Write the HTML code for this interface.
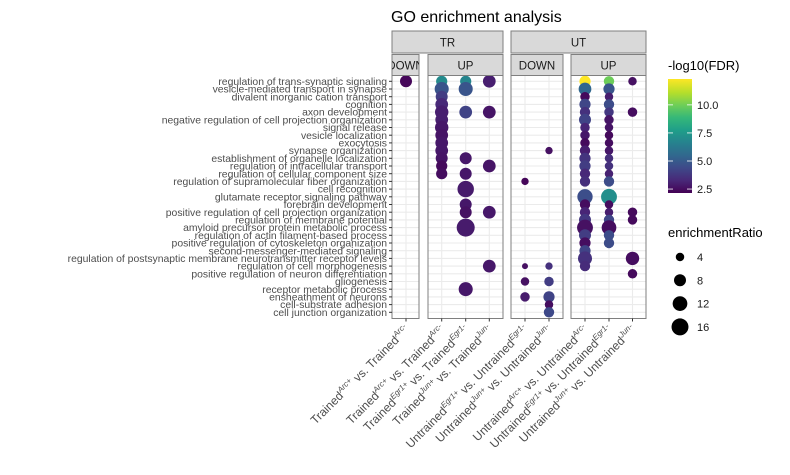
<!DOCTYPE html>
<html><head><meta charset="utf-8"><style>
body{margin:0;background:#fff;}
svg{display:block;font-family:"Liberation Sans",sans-serif;}
</style></head><body>
<svg id="chart" width="790" height="475" viewBox="0 0 790 475" xmlns="http://www.w3.org/2000/svg">
<defs><linearGradient id="vir" x1="0" y1="1" x2="0" y2="0">
<stop offset="0" stop-color="#440154"/><stop offset="0.11" stop-color="#482878"/><stop offset="0.22" stop-color="#3e4989"/><stop offset="0.33" stop-color="#31688e"/><stop offset="0.44" stop-color="#26828e"/><stop offset="0.55" stop-color="#1f9e89"/><stop offset="0.66" stop-color="#35b779"/><stop offset="0.77" stop-color="#6ece58"/><stop offset="0.88" stop-color="#b5de2b"/><stop offset="1" stop-color="#fde725"/></linearGradient></defs>
<text x="391" y="22" font-size="16" fill="#000">GO enrichment analysis</text>
<g id="g"></g>
</svg>
<script>
const terms=["regulation of trans-synaptic signaling","vesicle-mediated transport in synapse","divalent inorganic cation transport","cognition","axon development","negative regulation of cell projection organization","signal release","vesicle localization","exocytosis","synapse organization","establishment of organelle localization","regulation of intracellular transport","regulation of cellular component size","regulation of supramolecular fiber organization","cell recognition","glutamate receptor signaling pathway","forebrain development","positive regulation of cell projection organization","regulation of membrane potential","amyloid precursor protein metabolic process","regulation of actin filament-based process","positive regulation of cytoskeleton organization","second-messenger-mediated signaling","regulation of postsynaptic membrane neurotransmitter receptor levels","regulation of cell morphogenesis","positive regulation of neuron differentiation","gliogenesis","receptor metabolic process","ensheathment of neurons","cell-substrate adhesion","cell junction organization"];
const comparisons=[["Trained","Arc+","Trained","Arc-"],["Trained","Arc+","Trained","Arc-"],["Trained","Egr1+","Trained","Egr1-"],["Trained","Jun+","Trained","Jun-"],["Untrained","Egr1+","Untrained","Egr1-"],["Untrained","Jun+","Untrained","Jun-"],["Untrained","Arc+","Untrained","Arc-"],["Untrained","Egr1+","Untrained","Egr1-"],["Untrained","Jun+","Untrained","Jun-"]];
const colPanel=[0,1,1,1,2,2,3,3,3];
const c0Terms=[1], c0Ratio=[8], c0Fdr=[2.3];
const c1Terms=[1,2,3,4,5,6,7,8,9,10,11,12,13];
const c1Ratio=[7,11,8,9,10,9,10,9,9,9,8,7,7];
const c1Fdr=[7,4.8,4,3.3,3,3,2.8,2.7,2.8,2.8,2.7,2.4,2.5];
const c2Terms=[1,2,5,11,13,15,17,18,20,28];
const c2Ratio=[7,11,9,8,8,15,8,8,18,11];
const c2Fdr=[6.8,4.8,4.2,2.8,2.8,2.9,2.8,2.6,2.9,2.8];
const c3Terms=[1,5,12,18,25], c3Ratio=[9,9,9,9,9], c3Fdr=[3,2.7,2.7,2.8,2.8];
const c4Terms=[14,25,27,29], c4Ratio=[3,2,4,5], c4Fdr=[2.3,2.6,2.6,2.9];
const c5Terms=[10,25,27,29,30,31], c5Ratio=[3,3,5,7,4,6], c5Fdr=[2.6,3.6,4,4.2,2.5,4.4];
const c6Terms=[1,2,3,4,5,6,7,8,9,10,11,12,13,14,16,17,18,19,20,21,22,23,24,25];
const c6Ratio=[7,9,5,7,6,8,5,5,5,6,7,7,6,6,13,6,6,8,14,8,7,7,11,6];
const c6Fdr=[12.3,5.5,2.4,4.3,3.6,4.2,3.2,2.8,2.4,3,3.7,4,3.3,3.5,4.6,2.5,3.2,3.8,2.6,4,2.5,4.2,3.6,3.4];
const c7Terms=[1,2,3,4,5,6,7,8,9,10,11,12,13,14,16,17,18,19,20,21,22];
const c7Ratio=[6,7,4,6,5,5,4,4,4,4,4,4,4,6,14,4,4,6,12,6,6];
const c7Fdr=[10,4.8,3,4.5,3.8,2.7,2.7,2.4,2.5,2.8,3.5,3.6,3.1,4.5,7.2,2.5,3,4.3,2.5,4.5,4.5];
const c8Terms=[1,5,18,19,24,26], c8Ratio=[4,5,5,5,10,5], c8Fdr=[2.6,2.5,2.4,2.4,2.5,2.4];
const colorTicks=[2.5,5.0,7.5,10.0];
const sizeTicks=[4,8,12,16];

const NS="http://www.w3.org/2000/svg";
const g=document.getElementById('g');
function el(t,a,p){const e=document.createElementNS(NS,t);for(const k in a)e.setAttribute(k,a[k]);(p||g).appendChild(e);return e;}
const yTop=75.5,yBot=318.5;
const yOf=i=>81.3+7.7*(i-1);
const panels=[[392,419],[428,503],[511,563],[571,646]];
const colX=[406,441.7,465.7,489.3,525,549,585,609,632.5];
const vir=["#440154","#482878","#3e4989","#31688e","#26828e","#1f9e89","#35b779","#6ece58","#b5de2b","#fde725"];
const fMin=2.15,fMax=12.3;
function hx(c){return [1,3,5].map(i=>parseInt(c.substr(i,2),16));}
function color(v){let t=Math.max(0,Math.min(1,(v-fMin)/(fMax-fMin)))*(vir.length-1);const i=Math.min(vir.length-2,Math.floor(t)),f=t-i;const a=hx(vir[i]),b=hx(vir[i+1]);return 'rgb('+a.map((x,k)=>Math.round(x+(b[k]-x)*f)).join(',')+')';}
const rOf=v=>2.12*Math.sqrt(v);
const pNames=["tr-down","tr-up","ut-down","ut-up"];
panels.forEach((p,pi)=>{
  const pg=el('g',{});
  
  
  el('rect',{x:p[0],y:yTop,width:p[1]-p[0],height:yBot-yTop,fill:'#fff'},pg);
  terms.forEach((t,i)=>el('line',{x1:p[0],x2:p[1],y1:yOf(i+1),y2:yOf(i+1),stroke:'#ebebeb','stroke-width':1.1},pg));
  colX.forEach((x,c)=>{if(colPanel[c]===pi)el('line',{x1:x,x2:x,y1:yTop,y2:yBot,stroke:'#ebebeb','stroke-width':1.1},pg);});
  const s=el('rect',{x:p[0],y:54.5,width:p[1]-p[0],height:21,fill:'#d9d9d9',stroke:'#7f7f7f','stroke-width':1},pg);
  
  
  const st=el('text',{x:(p[0]+p[1])/2,y:69.5,'text-anchor':'middle','font-size':11.5,fill:'#1a1a1a'},pg);
  st.textContent=pi%2?'UP':'DOWN';
  
  
});
const cp=el('clipPath',{id:'cp0'});el('rect',{x:392,y:54,width:27,height:22},cp);
g.children[0].querySelector('text').setAttribute('clip-path','url(#cp0)');
[[392,503,'TR'],[511,646,'UT']].forEach(s=>{
  const r=el('rect',{x:s[0],y:31,width:s[1]-s[0],height:22,fill:'#d9d9d9',stroke:'#7f7f7f','stroke-width':1});
  
  
  const t=el('text',{x:(s[0]+s[1])/2,y:46.5,'text-anchor':'middle','font-size':11.5,fill:'#1a1a1a'});
  t.textContent=s[2];
  
  
});
const cols=[[c0Terms,c0Ratio,c0Fdr],[c1Terms,c1Ratio,c1Fdr],[c2Terms,c2Ratio,c2Fdr],[c3Terms,c3Ratio,c3Fdr],[c4Terms,c4Ratio,c4Fdr],[c5Terms,c5Ratio,c5Fdr],[c6Terms,c6Ratio,c6Fdr],[c7Terms,c7Ratio,c7Fdr],[c8Terms,c8Ratio,c8Fdr]];
cols.forEach((c,ci)=>{c[0].forEach((ti,k)=>{
  const d=el('circle',{cx:colX[ci],cy:yOf(ti),r:rOf(c[1][k]),fill:color(c[2][k])});
  
  
});});
panels.forEach(p=>el('rect',{x:p[0],y:yTop,width:p[1]-p[0],height:yBot-yTop,fill:'none',stroke:'#7f7f7f','stroke-width':1}));
terms.forEach((t,i)=>{
  const y=yOf(i+1);
  el('line',{x1:389,x2:392,y1:y,y2:y,stroke:'#333','stroke-width':1});
  const tx=el('text',{x:387,y:y+3.6,'text-anchor':'end','font-size':10.4,fill:'#4d4d4d'});
  tx.textContent=t;
  
  
});
comparisons.forEach((c,ci)=>{
  const x=colX[ci];
  el('line',{x1:x,x2:x,y1:yBot,y2:yBot+3,stroke:'#333','stroke-width':1});
  const tx=el('text',{transform:`translate(${x+4},${yBot+12}) rotate(-45)`,'text-anchor':'end','font-size':12,fill:'#4d4d4d'});
  
  
  const parts=[[c[0],0],[c[1],1],[' vs. '+c[2],0],[c[3],1]];
  parts.forEach(p=>{const s=el('tspan',p[1]?{'font-size':8,'font-style':'italic',dy:-5}:{'font-size':12,dy:0},tx);s.textContent=p[0];if(!p[1]&&tx.childNodes.length>1)s.setAttribute('dy',5);});
});
const lt=el('text',{x:668,y:70,'font-size':13,fill:'#000'});lt.textContent='-log10(FDR)';

const cbTop=79,cbBot=193,cbY=v=>cbBot-(v-fMin)/(fMax-fMin)*(cbBot-cbTop);
const cb=el('rect',{x:668,y:cbTop,width:24,height:cbBot-cbTop,fill:'url(#vir)'});

colorTicks.forEach(v=>{const y=cbY(v);
  el('line',{x1:668,x2:673,y1:y,y2:y,stroke:'#fff','stroke-width':1,opacity:0.8});
  el('line',{x1:687,x2:692,y1:y,y2:y,stroke:'#fff','stroke-width':1,opacity:0.8});
  const t=el('text',{x:697,y:y+4,'font-size':11,fill:'#1a1a1a'});t.textContent=v.toFixed(1);
  });
const st=el('text',{x:668,y:237,'font-size':13,fill:'#000'});st.textContent='enrichmentRatio';

sizeTicks.forEach((v,i)=>{const y=257+i*23.3;
  const c=el('circle',{cx:680,cy:y,r:rOf(v),fill:'#000'});
  
  const t=el('text',{x:697,y:y+4,'font-size':11,fill:'#1a1a1a'});t.textContent=v;
  });
</script>
</body></html>
